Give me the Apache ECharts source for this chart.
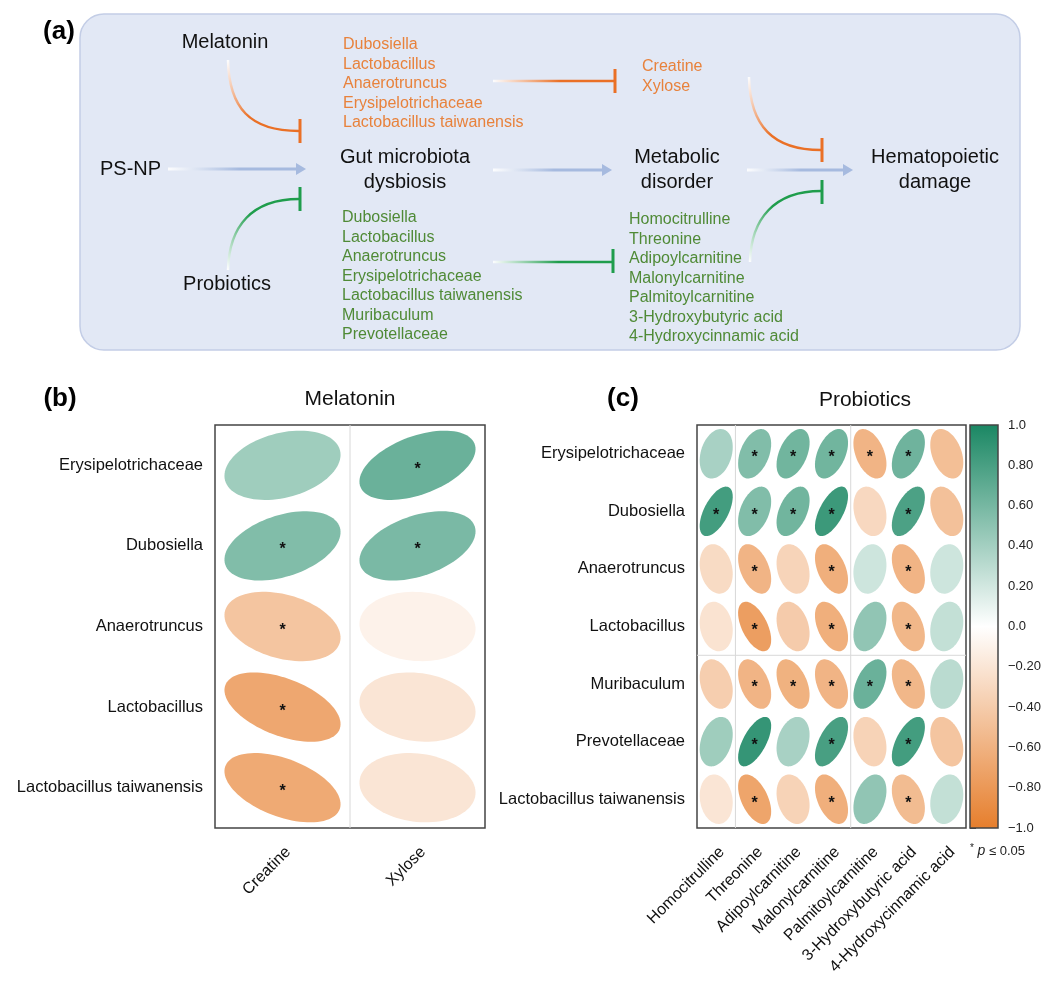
<!DOCTYPE html>
<html>
<head>
<meta charset="utf-8">
<script src="https://cdn.jsdelivr.net/npm/echarts@6/dist/echarts.min.js"></script>
<style>
  html, body { margin: 0; background: #fff; }
  #main { width: 1050px; height: 985px; }
</style>
</head>
<body>
<div id="main"></div>
<script>
// ---- panel (b): melatonin correlations
const microbesB = ['Erysipelotrichaceae', 'Dubosiella', 'Anaerotruncus', 'Lactobacillus', 'Lactobacillus taiwanensis'];
const metabolitesB = ['Creatine', 'Xylose'];
const rhoB = [
  [0.42, 0.65],
  [0.55, 0.58],
  [-0.45, -0.10],
  [-0.68, -0.20],
  [-0.66, -0.20],
];
const sigB = [
  [0, 1],
  [1, 1],
  [1, 0],
  [1, 0],
  [1, 0],
];
// faint divider lines: [category index whose leading edge gets a line, direction]
const dividersB = [[1, 'v']];

// ---- panel (c): probiotics correlations
const microbesC = ['Erysipelotrichaceae', 'Dubosiella', 'Anaerotruncus', 'Lactobacillus', 'Muribaculum', 'Prevotellaceae', 'Lactobacillus taiwanensis'];
const metabolitesC = ['Homocitrulline', 'Threonine', 'Adipoylcarnitine', 'Malonylcarnitine', 'Palmitoylcarnitine', '3-Hydroxybutyric acid', '4-Hydroxycinnamic acid'];
const rhoC = [
  [0.38, 0.55, 0.62, 0.62, -0.58, 0.63, -0.50],
  [0.82, 0.55, 0.62, 0.85, -0.30, 0.78, -0.48],
  [-0.28, -0.58, -0.33, -0.62, 0.22, -0.58, 0.22],
  [-0.22, -0.75, -0.40, -0.62, 0.48, -0.56, 0.26],
  [-0.38, -0.58, -0.60, -0.58, 0.65, -0.56, 0.30],
  [0.42, 0.88, 0.38, 0.80, -0.34, 0.82, -0.45],
  [-0.20, -0.70, -0.34, -0.62, 0.48, -0.52, 0.26],
];
const sigC = [
  [0, 1, 1, 1, 1, 1, 0],
  [1, 1, 1, 1, 0, 1, 0],
  [0, 1, 0, 1, 0, 1, 0],
  [0, 1, 0, 1, 0, 1, 0],
  [0, 1, 1, 1, 1, 1, 0],
  [0, 1, 0, 1, 0, 1, 0],
  [0, 1, 0, 1, 0, 1, 0],
];
const dividersC = [[1, 'v'], [4, 'v'], [4, 'h']];

// colour scale range
const colorRange = [-1, 1];

// ---- panel (a): diagram texts
const melatoninTaxa = ['Dubosiella', 'Lactobacillus', 'Anaerotruncus', 'Erysipelotrichaceae', 'Lactobacillus taiwanensis'];
const melatoninMetabolites = ['Creatine', 'Xylose'];
const probioticTaxa = ['Dubosiella', 'Lactobacillus', 'Anaerotruncus', 'Erysipelotrichaceae', 'Lactobacillus taiwanensis', 'Muribaculum', 'Prevotellaceae'];
const probioticMetabolites = ['Homocitrulline', 'Threonine', 'Adipoylcarnitine', 'Malonylcarnitine', 'Palmitoylcarnitine', '3-Hydroxybutyric acid', '4-Hydroxycinnamic acid'];

const FONT = '"Liberation Sans", Arial, sans-serif';
const ORANGE = '#e67e2c';
const GREEN = '#1a8763';
const TXT_OR = '#e8823c';
const TXT_GR = '#4f8a36';
const LINE_OR = '#ea7026';
const LINE_GR = '#1f9d4c';
const BLUE = '#a6badf';
// the ellipses in the figure are rounder than the plain corrplot shape
const SHAPE_DAMP = 0.72;

function toCells(rho, sig) {
  const out = [];
  rho.forEach((row, i) => row.forEach((v, j) => out.push([j, i, v, sig[i][j]])));
  return out;
}

function renderEllipse(params, api) {
  const c = api.coord([api.value(0), api.value(1)]);
  const s = api.size([1, 1]);
  const w = Math.abs(s[0]) * 0.86, h = Math.abs(s[1]) * 0.86;
  const d = Math.acos(api.value(2) * SHAPE_DAMP);
  const pts = [];
  for (let k = 0; k < 90; k++) {
    const t = k / 90 * Math.PI * 2;
    pts.push([c[0] + Math.cos(t + d / 2) / 2 * w, c[1] - Math.cos(t - d / 2) / 2 * h]);
  }
  const children = [{ type: 'polygon', shape: { points: pts }, style: { fill: api.visual('color') } }];
  if (api.value(3)) {
    children.push({
      type: 'text', x: c[0], y: c[1] + 4,
      style: { text: '*', fill: '#111', font: 'bold 16px ' + FONT, align: 'center', verticalAlign: 'middle', textAlign: 'center', textVerticalAlign: 'middle' }
    });
  }
  return { type: 'group', children };
}

// a divider runs along the leading edge of category idx (between idx-1 and idx)
function renderDivider(params, api) {
  const idx = api.value(0);
  const cs = params.coordSys;
  const band = api.size([1, 1]);
  const c = api.coord([idx, idx]);
  let shape;
  if (api.value(1) === 0) {
    const x = c[0] - Math.abs(band[0]) / 2;
    shape = { x1: x, y1: cs.y, x2: x, y2: cs.y + cs.height };
  } else {
    const y = c[1] - Math.abs(band[1]) / 2;
    shape = { x1: cs.x, y1: y, x2: cs.x + cs.width, y2: y };
  }
  return { type: 'line', shape, style: { stroke: '#d8d8d8', lineWidth: 1 } };
}
const toDividers = (list) => list.map(([i, dir]) => [i, dir === 'v' ? 0 : 1]);

function renderColorbar(params, api) {
  const p0 = api.coord([api.value(0), api.value(3)]);
  const p1 = api.coord([api.value(2), api.value(1)]);
  return {
    type: 'rect',
    shape: { x: p0[0], y: p0[1], width: p1[0] - p0[0], height: p1[1] - p0[1] },
    style: {
      fill: new echarts.graphic.LinearGradient(0, 0, 0, 1, [
        { offset: 0, color: GREEN }, { offset: 0.5, color: '#ffffff' }, { offset: 1, color: ORANGE }
      ]),
      stroke: '#444', lineWidth: 1.5
    }
  };
}

// ---- diagram helpers
function txt(x, y, text, size, color, align, weight) {
  return {
    type: 'text', x, y, z: 10,
    style: {
      text, fill: color, font: (weight || 'normal') + ' ' + size + 'px ' + FONT,
      align: align || 'center', verticalAlign: 'middle', textAlign: align || 'center', textVerticalAlign: 'middle'
    }
  };
}
function list(x, y0, items, color) {
  return items.map((t, i) => txt(x, y0 + i * 19.5, t, 16, color, 'left'));
}
function grad(x, y, x2, y2, color) {
  return {
    type: 'linear', x, y, x2, y2, global: true,
    colorStops: [{ offset: 0, color: 'rgba(255,255,255,0.9)' }, { offset: 0.55, color }, { offset: 1, color }]
  };
}
function hLine(x1, x2, y, color, w) {
  return { type: 'line', z: 5, shape: { x1, y1: y, x2, y2: y }, style: { stroke: grad(x1, y, x2, y, color), lineWidth: w || 3 } };
}
function bar(x, y1, y2, color) {
  return { type: 'line', z: 6, shape: { x1: x, y1, x2: x, y2 }, style: { stroke: color, lineWidth: 3 } };
}
function arrow(x1, x2, y) {
  return [
    hLine(x1, x2 - 8, y, BLUE, 3),
    { type: 'polygon', z: 6, shape: { points: [[x2 - 10, y - 6], [x2, y], [x2 - 10, y + 6]] }, style: { fill: BLUE } }
  ];
}
function curve(x1, y1, x2, y2, cp1, cp2, color) {
  return {
    type: 'bezierCurve', z: 5,
    shape: { x1, y1, x2, y2, cpx1: cp1[0], cpy1: cp1[1], cpx2: cp2[0], cpy2: cp2[1] },
    style: { stroke: grad(x1, y1, x2, y2, color), lineWidth: 2.5, fill: null }
  };
}

const diagram = [
  { type: 'rect', z: 1, shape: { x: 80, y: 14, width: 940, height: 336, r: 24 }, style: { fill: '#e2e8f5', stroke: '#c3cde6', lineWidth: 1.5 } },
  txt(59, 32, '(a)', 26, '#000', 'center', 'bold'),
  txt(225, 42, 'Melatonin', 20, '#111'),
  txt(100, 169, 'PS-NP', 20, '#111', 'left'),
  txt(227, 284, 'Probiotics', 20, '#111'),
  txt(405, 157, 'Gut microbiota', 20, '#111'),
  txt(405, 182, 'dysbiosis', 20, '#111'),
  txt(677, 157, 'Metabolic', 20, '#111'),
  txt(677, 182, 'disorder', 20, '#111'),
  txt(935, 157, 'Hematopoietic', 20, '#111'),
  txt(935, 182, 'damage', 20, '#111'),
  ...list(343, 45, melatoninTaxa, TXT_OR),
  ...list(342, 218, probioticTaxa, TXT_GR),
  ...list(642, 67, melatoninMetabolites, TXT_OR),
  ...list(629, 220, probioticMetabolites, TXT_GR),
  ...arrow(168, 306, 169),
  ...arrow(493, 612, 170),
  ...arrow(747, 853, 170),
  hLine(493, 614, 81, LINE_OR, 2.5), bar(615, 69, 93, LINE_OR),
  hLine(493, 612, 262, LINE_GR, 2.5), bar(613, 249, 273, LINE_GR),
  curve(228, 60, 299, 131, [229, 108], [250, 131], LINE_OR), bar(300, 119, 143, LINE_OR),
  curve(228, 270, 299, 199, [229, 226], [252, 199], LINE_GR), bar(300, 187, 211, LINE_GR),
  curve(749, 77, 821, 150, [750, 126], [773, 150], LINE_OR), bar(822, 138, 162, LINE_OR),
  curve(750, 262, 821, 191, [751, 218], [775, 191], LINE_GR), bar(822, 180, 204, LINE_GR),
  // panel labels and titles
  txt(60, 399, '(b)', 26, '#000', 'center', 'bold'),
  txt(350, 399, 'Melatonin', 21, '#111'),
  txt(623, 399, '(c)', 26, '#000', 'center', 'bold'),
  txt(865, 400, 'Probiotics', 21, '#111'),
  {
    type: 'text', x: 970, y: 851, z: 10,
    style: {
      text: '{s|*} {i|p} ≤ 0.05', fill: '#222', font: '13px ' + FONT,
      align: 'left', verticalAlign: 'middle', textAlign: 'left', textVerticalAlign: 'middle',
      rich: { s: { fontSize: 10, fontFamily: FONT, padding: [0, 0, 6, 0] }, i: { fontStyle: 'italic', fontSize: 14, fontFamily: FONT } }
    }
  }
];

const catX = (data, gi) => ({
  gridIndex: gi, type: 'category', data,
  axisLine: { show: false }, axisTick: { show: false }, splitLine: { show: false },
  axisLabel: { rotate: 45, fontSize: 16, color: '#111', margin: 16, verticalAlign: 'top', fontFamily: FONT, interval: 0 }
});
const catY = (data, gi) => ({
  gridIndex: gi, type: 'category', data, inverse: true,
  axisLine: { show: false }, axisTick: { show: false }, splitLine: { show: false },
  axisLabel: { fontSize: 16.5, color: '#111', margin: 12, fontFamily: FONT, interval: 0 }
});

const fmt = (v) => {
  const r = Math.round(v * 10) / 10;
  if (Math.abs(r) === 1) return (r < 0 ? '\u22121' : '1') + '.0';
  if (r === 0) return '0.0';
  return (r < 0 ? '\u2212' : '') + Math.abs(r).toFixed(2);
};

const option = {
  animation: false,
  backgroundColor: '#fff',
  textStyle: { fontFamily: FONT },
  grid: [
    { left: 215, top: 425, width: 270, height: 403, show: true, borderColor: '#444', borderWidth: 1.5, backgroundColor: 'rgba(0,0,0,0)' },
    { left: 697, top: 425, width: 269, height: 403, show: true, borderColor: '#444', borderWidth: 1.5, backgroundColor: 'rgba(0,0,0,0)' },
    { left: 970, top: 425, width: 28, height: 403 }
  ],
  xAxis: [
    catX(metabolitesB, 0),
    catX(metabolitesC, 1),
    { gridIndex: 2, type: 'value', min: 0, max: 1, show: false }
  ],
  yAxis: [
    catY(microbesB, 0),
    catY(microbesC, 1),
    {
      gridIndex: 2, type: 'value', min: colorRange[0], max: colorRange[1], interval: 0.2, position: 'right',
      axisLine: { show: false },
      axisTick: { show: true, length: 6, lineStyle: { color: '#444' } },
      axisLabel: { fontSize: 13, color: '#222', margin: 10, formatter: fmt },
      splitLine: { show: false }
    }
  ],
  visualMap: {
    show: false, type: 'continuous', min: colorRange[0], max: colorRange[1], dimension: 2, seriesIndex: [2, 3],
    inRange: { color: [ORANGE, '#ffffff', GREEN] }
  },
  graphic: { elements: diagram },
  series: [
    { type: 'custom', coordinateSystem: 'cartesian2d', xAxisIndex: 0, yAxisIndex: 0, z: 1, renderItem: renderDivider, data: toDividers(dividersB), encode: { x: 0 } },
    { type: 'custom', coordinateSystem: 'cartesian2d', xAxisIndex: 1, yAxisIndex: 1, z: 1, renderItem: renderDivider, data: toDividers(dividersC), encode: { x: 0 } },
    { type: 'custom', coordinateSystem: 'cartesian2d', xAxisIndex: 0, yAxisIndex: 0, z: 2, renderItem: renderEllipse, data: toCells(rhoB, sigB), encode: { x: 0, y: 1 } },
    { type: 'custom', coordinateSystem: 'cartesian2d', xAxisIndex: 1, yAxisIndex: 1, z: 2, renderItem: renderEllipse, data: toCells(rhoC, sigC), encode: { x: 0, y: 1 } },
    { type: 'custom', coordinateSystem: 'cartesian2d', xAxisIndex: 2, yAxisIndex: 2, renderItem: renderColorbar, data: [[0, colorRange[0], 1, colorRange[1]]], encode: { x: [0, 2], y: [1, 3] } }
  ]
};

const chart = echarts.init(document.getElementById('main'));
chart.setOption(option);
</script>
</body>
</html>
